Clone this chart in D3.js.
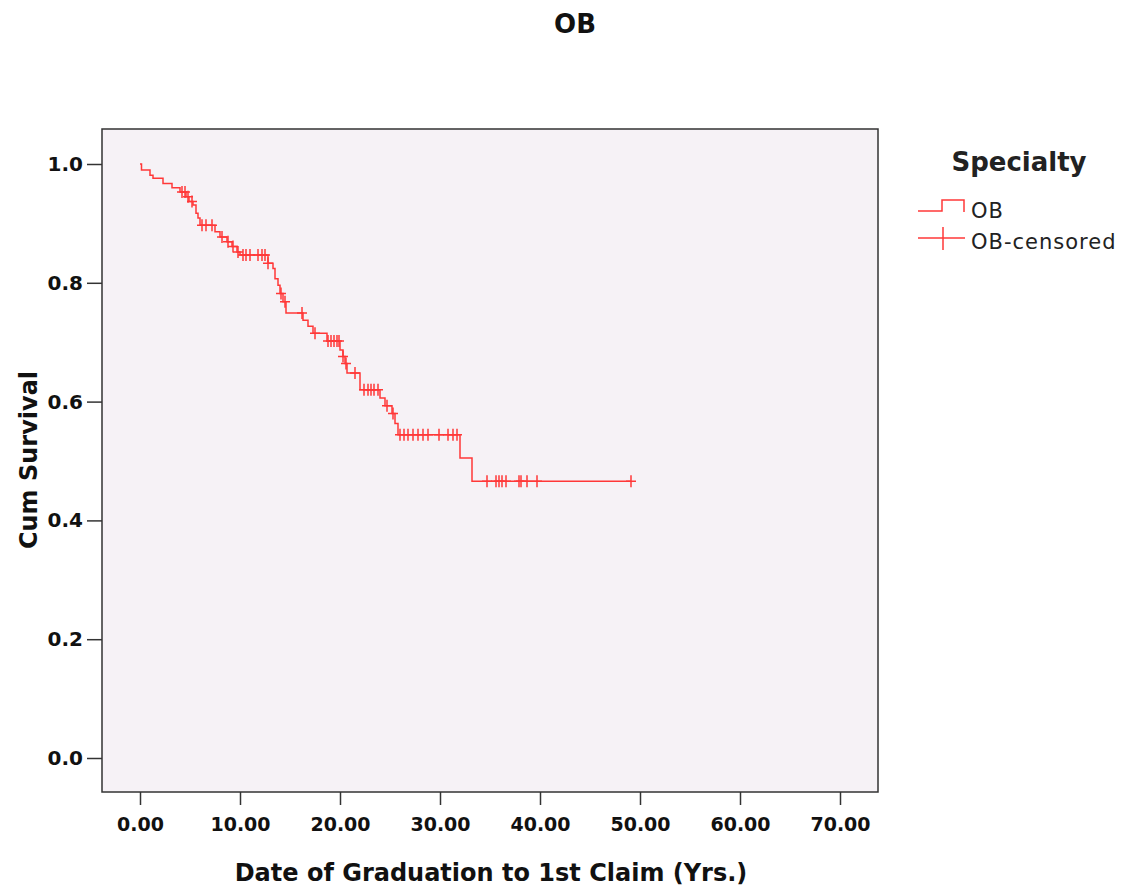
<!DOCTYPE html>
<html>
<head>
<meta charset="utf-8">
<title>OB</title>
<script src="https://d3js.org/d3.v7.min.js"></script>
<style>
  body { margin:0; background:#fff; font-family:"DejaVu Sans", sans-serif; }
</style>
</head>
<body>
<div id="chart"></div>
<script>
// step times (yrs) and survival after each event
var eventTimes = [0.15, 1.0, 1.3, 2.3, 3.2, 4.0, 4.6, 4.9, 5.3, 5.6, 5.8, 6.0, 7.5, 8.0, 8.7, 9.2, 9.7, 10.0,
                  12.8, 13.3, 13.5, 13.8, 14.0, 14.3, 14.6, 16.3, 16.8, 17.3, 18.7, 20.0, 20.3, 20.5, 20.7,
                  22.0, 24.0, 24.5, 25.2, 25.5, 25.8, 32.0, 33.2]
var survival   = [0.990, 0.981, 0.976, 0.967, 0.960, 0.953, 0.945, 0.937, 0.931, 0.917, 0.909, 0.897, 0.886, 0.877, 0.869, 0.861, 0.852, 0.847,
                  0.833, 0.824, 0.807, 0.796, 0.782, 0.768, 0.749, 0.737, 0.727, 0.715, 0.702, 0.687, 0.676, 0.664, 0.648,
                  0.620, 0.606, 0.593, 0.580, 0.563, 0.544, 0.505, 0.466]
var censorTimes = [4.2, 4.5, 4.8, 5.2, 6.2, 6.6, 7.2, 8.2, 8.8, 9.3, 9.8, 10.3, 10.6, 11.0, 11.8, 12.2, 12.5, 12.8,
                   14.1, 14.5, 16.2, 17.5, 18.8, 19.1, 19.4, 19.7, 19.9, 20.3, 20.6, 21.5, 22.4, 22.8, 23.1, 23.4, 23.8,
                   24.7, 25.3, 26.0, 26.4, 26.8, 27.3, 27.8, 28.3, 28.8, 29.9, 30.8, 31.3, 31.7,
                   34.7, 35.6, 35.9, 36.2, 36.6, 37.9, 38.1, 38.7, 39.7, 49.1]
var xTicks = [0, 10, 20, 30, 40, 50, 60, 70]
var yTicks = [0.0, 0.2, 0.4, 0.6, 0.8, 1.0]

var W = 1131, H = 892
var frame = {left:102, top:129, right:878, bottom:792}
var red = "#ff3838"
var font = "DejaVu Sans, sans-serif"

var svg = d3.select("#chart").append("svg").attr("width", W).attr("height", H)
  .attr("font-family", font)

var x = d3.scaleLinear().domain([0, 70]).range([140, 840])
var y = d3.scaleLinear().domain([0, 1]).range([758, 164])

svg.append("rect")
  .attr("x", frame.left).attr("y", frame.top)
  .attr("width", frame.right - frame.left).attr("height", frame.bottom - frame.top)
  .attr("fill", "#f6f2f6").attr("stroke", "#333").attr("stroke-width", 1.5)

// title
svg.append("text").attr("x", 575).attr("y", 33).attr("text-anchor", "middle")
  .attr("font-size", 26).attr("font-weight", "bold").attr("fill", "#111").text("OB")

// axes
var xAxis = svg.append("g").attr("transform", "translate(0," + frame.bottom + ")")
  .call(d3.axisBottom(x).tickValues(xTicks).tickFormat(d3.format(".2f")).tickSize(13).tickSizeOuter(0))
var yAxis = svg.append("g").attr("transform", "translate(" + frame.left + ",0)")
  .call(d3.axisLeft(y).tickValues(yTicks).tickFormat(d3.format(".1f")).tickSize(15).tickSizeOuter(0))
;[xAxis, yAxis].forEach(function(g){
  g.select(".domain").remove()
  g.selectAll("line").attr("stroke", "#333").attr("stroke-width", 1.5)
  g.selectAll("text").attr("font-family", font)
    .attr("font-size", 19).attr("font-weight", "bold").attr("fill", "#111")
})
xAxis.selectAll("text").attr("y", 39).attr("dy", "0")
yAxis.selectAll("text").attr("x", -19).attr("font-size", 20)

svg.append("text").attr("x", 491).attr("y", 881).attr("text-anchor", "middle")
  .attr("font-size", 24).attr("font-weight", "bold").attr("fill", "#111")
  .text("Date of Graduation to 1st Claim (Yrs.)")
svg.append("text").attr("transform", "translate(37,460) rotate(-90)").attr("text-anchor", "middle")
  .attr("font-size", 24).attr("font-weight", "bold").attr("fill", "#111").text("Cum Survival")

// KM step curve
var pts = [[0, 1]]
eventTimes.forEach(function(t, i){ pts.push([t, survival[i]]) })
pts.push([d3.max(censorTimes), survival[survival.length - 1]])

function survAt(t){
  var s = 1
  eventTimes.forEach(function(e, i){ if (e <= t) s = survival[i] })
  return s
}

var line = d3.line().x(function(d){ return x(d[0]) }).y(function(d){ return y(d[1]) }).curve(d3.curveStepAfter)
svg.append("path").attr("d", line(pts)).attr("fill", "none").attr("stroke", red).attr("stroke-width", 1.5)

svg.selectAll(".cens").data(censorTimes).enter().append("path")
  .attr("class", "cens")
  .attr("d", function(t){
    var cx = x(t), cy = y(survAt(t))
    return "M" + (cx - 5) + "," + cy + "H" + (cx + 5) + "M" + cx + "," + (cy - 6) + "V" + (cy + 6)
  })
  .attr("stroke", red).attr("stroke-width", 1.5).attr("fill", "none")

// legend
var lg = svg.append("g")
lg.append("text").attr("x", 1019).attr("y", 171).attr("text-anchor", "middle")
  .attr("font-size", 26).attr("font-weight", "bold").attr("fill", "#222").text("Specialty")
lg.append("path").attr("d", "M918,211H942V200H964V212").attr("fill", "none").attr("stroke", red).attr("stroke-width", 1.5)
lg.append("text").attr("x", 971).attr("y", 218).attr("font-size", 21).attr("letter-spacing", 1)
  .attr("fill", "#222").text("OB")
lg.append("path").attr("d", "M918,238H965M943,227V250").attr("fill", "none").attr("stroke", red).attr("stroke-width", 1.5)
lg.append("text").attr("x", 971).attr("y", 249).attr("font-size", 21).attr("letter-spacing", 1)
  .attr("fill", "#222").text("OB-censored")
</script>
</body>
</html>
